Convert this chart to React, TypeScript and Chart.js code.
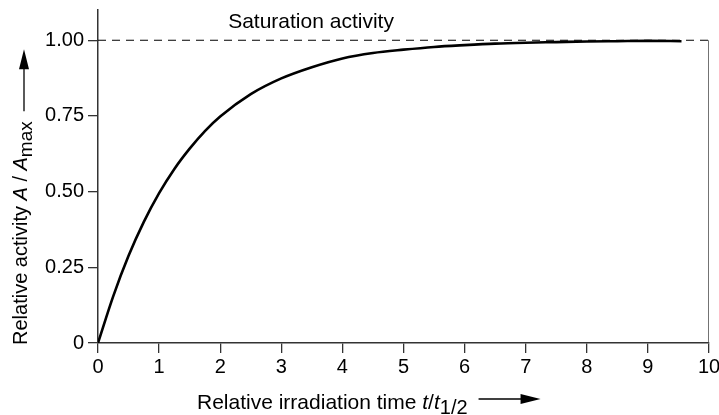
import React, { useEffect, useRef } from "react";
import { Chart, registerables } from "chart.js";

Chart.register(...registerables);

// Relative irradiation time t/t1/2
const timeValues = [0, 0.25, 0.5, 0.75, 1, 1.25, 1.5, 1.75, 2, 2.5, 3, 3.5, 4, 4.5, 5, 5.5, 6, 6.5, 7, 7.5, 8, 8.5, 9, 9.55];
// Relative activity A/Amax
const activityValues = [0, 0.155, 0.288, 0.4, 0.495, 0.575, 0.642, 0.7, 0.748, 0.822, 0.874, 0.911, 0.94, 0.958, 0.969, 0.978, 0.984, 0.989, 0.992, 0.994, 0.996, 0.997, 0.998, 0.997];
const saturationLevel = 1.0;
const xTickValues = [0, 1, 2, 3, 4, 5, 6, 7, 8, 9, 10];
const yTickValues = [0, 0.25, 0.5, 0.75, 1.0];
const yTickLabels = ["0", "0.25", "0.50", "0.75", "1.00"];
const saturationLabel = "Saturation activity";

type Seg = { t: string; italic?: boolean; sub?: boolean };
const xTitle: Seg[] = [
  { t: "Relative irradiation time " },
  { t: "t", italic: true },
  { t: "/" },
  { t: "t", italic: true },
  { t: "1/2", sub: true },
];
const yTitle: Seg[] = [
  { t: "Relative activity " },
  { t: "A", italic: true },
  { t: " / " },
  { t: "A", italic: true },
  { t: "max", sub: true },
];

const FONT = "'Liberation Sans', Arial, Helvetica, sans-serif";

function drawRich(ctx: CanvasRenderingContext2D, segs: Seg[], x: number, y: number, size: number, subSize: number) {
  let cx = x;
  for (const s of segs) {
    const sz = s.sub ? subSize : size;
    ctx.font = `${s.italic ? "italic " : ""}${sz}px ${FONT}`;
    ctx.fillText(s.t, cx, s.sub ? y + 5 : y);
    cx += ctx.measureText(s.t).width;
  }
  return cx;
}

const annotations = {
  id: "annotations",
  afterDraw(chart: any) {
    const ctx = chart.ctx as CanvasRenderingContext2D;
    const xs = chart.scales.x;
    const ys = chart.scales.y;
    ctx.save();
    ctx.fillStyle = "#000";
    ctx.strokeStyle = "#000";
    ctx.textBaseline = "alphabetic";
    ctx.textAlign = "left";
    // saturation label
    ctx.font = `21px ${FONT}`;
    ctx.fillText(saturationLabel, xs.getPixelForValue(2.13), ys.getPixelForValue(1.04));

    // x title + arrow
    const endX = drawRich(ctx, xTitle, 197, 409, 21, 20);
    const ay = 399;
    const a0 = endX + 11;
    ctx.lineWidth = 1.3;
    ctx.beginPath();
    ctx.moveTo(a0, ay);
    ctx.lineTo(a0 + 46, ay);
    ctx.stroke();
    ctx.beginPath();
    ctx.moveTo(a0 + 62, ay);
    ctx.lineTo(a0 + 42, ay - 5);
    ctx.lineTo(a0 + 42, ay + 5);
    ctx.closePath();
    ctx.fill();

    // y title + arrow (rotated)
    ctx.translate(27, 345);
    ctx.rotate(-Math.PI / 2);
    const endY = drawRich(ctx, yTitle, 0, 0, 20, 19);
    const by = -3;
    const b0 = endY + 10;
    ctx.beginPath();
    ctx.moveTo(b0, by);
    ctx.lineTo(b0 + 46, by);
    ctx.stroke();
    ctx.beginPath();
    ctx.moveTo(b0 + 62, by);
    ctx.lineTo(b0 + 42, by - 5);
    ctx.lineTo(b0 + 42, by + 5);
    ctx.closePath();
    ctx.fill();
    ctx.restore();
  },
};

export default function App() {
  const ref = useRef<HTMLCanvasElement | null>(null);
  useEffect(() => {
    document.body.style.margin = "0";
    if (!ref.current) return;
    const chart = new Chart(ref.current, {
      type: "line",
      data: {
        datasets: [
          {
            data: timeValues.map((t, i) => ({ x: t, y: activityValues[i] })),
            borderColor: "#000",
            borderWidth: 2.6,
            pointRadius: 0,
            cubicInterpolationMode: "monotone",
            fill: false,
          },
          {
            data: [
              { x: xTickValues[0], y: saturationLevel },
              { x: xTickValues[xTickValues.length - 1], y: saturationLevel },
            ],
            borderColor: "#000",
            borderWidth: 1.2,
            borderDash: [8, 6],
            pointRadius: 0,
          },
          {
            data: [
              { x: xTickValues[xTickValues.length - 1], y: 0 },
              { x: xTickValues[xTickValues.length - 1], y: saturationLevel },
            ],
            borderColor: "#444",
            borderWidth: 1.5,
            pointRadius: 0,
          },
        ],
      },
      options: {
        responsive: false,
        animation: false,
        layout: { padding: { top: 10, right: 10, left: 0, bottom: 0 } },
        plugins: { legend: { display: false }, tooltip: { enabled: false } },
        scales: {
          x: {
            type: "linear",
            min: 0,
            max: 10,
            afterBuildTicks: (s: any) => {
              s.ticks = xTickValues.map((v) => ({ value: v }));
            },
            afterFit: (s: any) => {
              s.height = 72;
              s.paddingLeft = 0;
              s.paddingRight = 0;
            },
            grid: { display: true, drawOnChartArea: false, drawTicks: true, tickLength: 10, color: "#333", lineWidth: 1.3 },
            border: { display: true, color: "#333", width: 1.5 },
            ticks: {
              color: "#000",
              padding: 2,
              maxRotation: 0,
              autoSkip: false,
              font: { family: FONT, size: 20 },
              callback: (v: any) => String(v),
            },
          },
          y: {
            type: "linear",
            min: 0,
            max: 1.1,
            afterBuildTicks: (s: any) => {
              s.ticks = yTickValues.map((v) => ({ value: v }));
            },
            afterFit: (s: any) => {
              s.width = 98;
              s.paddingTop = 0;
              s.paddingBottom = 0;
            },
            grid: { display: true, drawOnChartArea: false, drawTicks: true, tickLength: 10, color: "#333", lineWidth: 1.3 },
            border: { display: true, color: "#333", width: 1.5 },
            ticks: {
              color: "#000",
              padding: 4,
              autoSkip: false,
              font: { family: FONT, size: 20 },
              callback: (v: any) => {
                const i = yTickValues.indexOf(Number(v));
                return i >= 0 ? yTickLabels[i] : "";
              },
            },
          },
        },
      },
      plugins: [annotations],
    });
    return () => chart.destroy();
  }, []);
  return (
    <div style={{ width: 719, height: 415, background: "#fff" }}>
      <canvas ref={ref} width={719} height={415} style={{ display: "block" }} />
    </div>
  );
}
